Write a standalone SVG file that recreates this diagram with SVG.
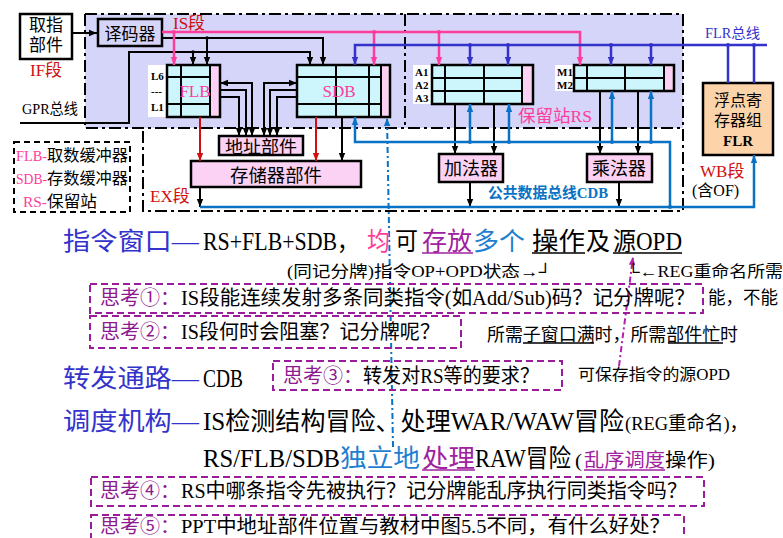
<svg xmlns="http://www.w3.org/2000/svg" width="783" height="538" viewBox="0 0 783 538">
<defs>
<style>
text{font-family:"Liberation Serif","Noto Sans CJK SC",serif;fill:#000}
.bx{stroke:#000;stroke-width:2.5}
.cy{fill:#ccf6fc}
.pk{fill:#fcd2f4}
.gl{fill:none;stroke:#000;stroke-width:2}
.k{fill:none;stroke:#000;stroke-width:2}
.r{fill:none;stroke:#d01010;stroke-width:2}
.p{fill:none;stroke:#ff3c9c;stroke-width:2.5}
.d{fill:none;stroke:#3333cc;stroke-width:2.5}
.c{fill:none;stroke:#0a72c4;stroke-width:2.5}
.dd{fill:none;stroke:#000;stroke-width:2;stroke-dasharray:12 4 3 4}
.th{fill:none;stroke:#9a1c9c;stroke-width:2;stroke-dasharray:7 4}
.lab{font-size:11px;font-weight:bold}
.stg{fill:#d01010}
.pu{fill:#8e1a90}
.bl{fill:#3333cc}
.lb{fill:#1f7fd0}
.pp{fill:#a020a0}
.pink{fill:#ff3c9c}
</style>
<marker id="ak" viewBox="0 0 10 10" refX="10" refY="5" markerWidth="8" markerHeight="8" markerUnits="userSpaceOnUse" orient="auto-start-reverse"><path d="M0,1 L10,5 L0,9 z" fill="#000"/></marker>
<marker id="ar" viewBox="0 0 10 10" refX="10" refY="5" markerWidth="8" markerHeight="8" markerUnits="userSpaceOnUse" orient="auto"><path d="M0,1 L10,5 L0,9 z" fill="#d01010"/></marker>
<marker id="ap" viewBox="0 0 10 10" refX="10" refY="5" markerWidth="8" markerHeight="8" markerUnits="userSpaceOnUse" orient="auto"><path d="M0,1 L10,5 L0,9 z" fill="#ff3c9c"/></marker>
<marker id="ad" viewBox="0 0 10 10" refX="10" refY="5" markerWidth="8" markerHeight="8" markerUnits="userSpaceOnUse" orient="auto"><path d="M0,1 L10,5 L0,9 z" fill="#3333cc"/></marker>
<marker id="ac" viewBox="0 0 10 10" refX="10" refY="5" markerWidth="8" markerHeight="8" markerUnits="userSpaceOnUse" orient="auto"><path d="M0,1 L10,5 L0,9 z" fill="#0a72c4"/></marker>
<marker id="au" viewBox="0 0 10 10" refX="10" refY="5" markerWidth="8" markerHeight="8" markerUnits="userSpaceOnUse" orient="auto"><path d="M0,1 L10,5 L0,9 z" fill="#b020b0"/></marker>
</defs>
<rect width="783" height="538" fill="#fff"/>

<!-- stage regions -->
<g id="regions">
<rect x="85" y="14" width="598" height="114" fill="#d5d5f9"/>
<path class="dd" d="M85,14 H683 V211 H143 V128 M85,14 V128 H683 M405,14 V128"/>
<text x="173" y="29" font-size="17" class="stg">IS段</text>
<text x="30" y="76" font-size="17" class="stg">IF段</text>
<text x="150" y="202" font-size="17" class="stg">EX段</text>
<text x="700" y="177" font-size="17" class="stg">WB段</text>
<text x="692" y="196" font-size="16">(含OF)</text>
<text x="705" y="38" font-size="14" class="bl" textLength="55" lengthAdjust="spacingAndGlyphs">FLR总线</text>
<text x="22" y="114" font-size="15" textLength="56" lengthAdjust="spacingAndGlyphs">GPR总线</text>
<text x="518" y="122" font-size="17" class="pink" textLength="74" lengthAdjust="spacingAndGlyphs">保留站RS</text>
<text x="488" y="198" font-size="15" style="fill:#0a72c4;font-weight:bold" textLength="120" lengthAdjust="spacingAndGlyphs">公共数据总线CDB</text>
</g>

<!-- legend -->
<g id="legend">
<rect x="14" y="142" width="116" height="70" fill="#fff" stroke="#000" stroke-width="2" stroke-dasharray="6 4"/>
<text x="16" y="161" font-size="15" class="pink" textLength="31" lengthAdjust="spacingAndGlyphs">FLB-</text>
<text x="47" y="161" font-size="16" textLength="81" lengthAdjust="spacingAndGlyphs">取数缓冲器</text>
<text x="16" y="184" font-size="15" class="pink" textLength="31" lengthAdjust="spacingAndGlyphs">SDB-</text>
<text x="47" y="184" font-size="16" textLength="81" lengthAdjust="spacingAndGlyphs">存数缓冲器</text>
<text x="23" y="207" font-size="15" class="pink" textLength="24" lengthAdjust="spacingAndGlyphs">RS-</text>
<text x="47" y="207" font-size="16" textLength="50" lengthAdjust="spacingAndGlyphs">保留站</text>
</g>

<!-- nodes -->
<g id="fetch">
<rect x="20" y="14" width="52" height="45" fill="#fff" class="bx"/>
<text x="46" y="31" font-size="17" text-anchor="middle">取指</text>
<text x="46" y="51" font-size="17" text-anchor="middle">部件</text>
</g>
<g id="decoder">
<rect x="98" y="19" width="64" height="27" fill="#d5d5f9" class="bx"/>
<text x="130" y="40" font-size="17" text-anchor="middle">译码器</text>
</g>
<g id="flb">
<rect x="148" y="65" width="19" height="52" fill="#fff"/>
<text x="151" y="80" class="lab">L6</text>
<text x="151" y="95" class="lab">---</text>
<text x="151" y="111" class="lab">L1</text>
<rect x="167" y="65" width="53" height="52" class="cy"/>
<rect x="210" y="65" width="10" height="52" class="pk"/>
<path class="gl" d="M181,65V117 M210,65V117 M167,77H210 M167,104H210"/>
<rect x="167" y="65" width="53" height="52" fill="none" class="bx"/>
<text x="195" y="97" font-size="17" class="pink" text-anchor="middle">FLB</text>
</g>
<g id="sdb">
<rect x="297" y="65" width="93" height="52" class="cy"/>
<rect x="381" y="65" width="9" height="52" class="pk"/>
<path class="gl" d="M336,65V117 M369,65V117 M381,65V117 M297,77H381 M297,104H381"/>
<rect x="297" y="65" width="93" height="52" fill="none" class="bx"/>
<text x="339" y="97" font-size="17" class="pink" text-anchor="middle">SDB</text>
</g>
<g id="rs-add">
<rect x="413" y="65" width="19" height="39" fill="#fff"/>
<text x="415" y="76" class="lab">A1</text>
<text x="415" y="89" class="lab">A2</text>
<text x="415" y="102" class="lab">A3</text>
<rect x="432" y="65" width="101" height="39" class="cy"/>
<rect x="522" y="65" width="11" height="39" class="pk"/>
<path class="gl" d="M445,65V104 M484,65V104 M522,65V104 M432,78H522 M432,91H522"/>
<rect x="432" y="65" width="101" height="39" fill="none" class="bx"/>
</g>
<g id="rs-mul">
<rect x="555" y="65" width="19" height="26" fill="#fff"/>
<text x="557" y="76" class="lab">M1</text>
<text x="557" y="89" class="lab">M2</text>
<rect x="574" y="65" width="100" height="26" class="cy"/>
<rect x="664" y="65" width="10" height="26" class="pk"/>
<path class="gl" d="M587,65V91 M625,65V91 M664,65V91 M574,78H664"/>
<rect x="574" y="65" width="100" height="26" fill="none" class="bx"/>
</g>
<g id="addr">
<rect x="219" y="136" width="84" height="19" class="pk bx"/>
<text x="261" y="153" font-size="17" text-anchor="middle" textLength="72" lengthAdjust="spacingAndGlyphs">地址部件</text>
</g>
<g id="mem">
<rect x="191" y="161" width="170" height="26" class="pk bx"/>
<text x="276" y="182" font-size="18" text-anchor="middle" textLength="92" lengthAdjust="spacingAndGlyphs">存储器部件</text>
</g>
<g id="adder">
<rect x="439" y="154" width="64" height="28" class="pk bx"/>
<text x="471" y="175" font-size="18" text-anchor="middle">加法器</text>
</g>
<g id="mult">
<rect x="587" y="154" width="65" height="28" class="pk bx"/>
<text x="619" y="175" font-size="18" text-anchor="middle">乘法器</text>
</g>
<g id="flr">
<rect x="703" y="83" width="70" height="72" fill="#fdd4aa" class="bx"/>
<text x="738" y="106" font-size="16" text-anchor="middle">浮点寄</text>
<text x="738" y="126" font-size="16" text-anchor="middle">存器组</text>
<text x="738" y="146" font-size="15" font-weight="bold" text-anchor="middle">FLR</text>
</g>

<!-- connectors -->
<g id="connectors">
<path class="k" d="M72,33 H97" marker-end="url(#ak)"/>
<path class="k" d="M162,38 H323 V65" marker-end="url(#ak)"/>
<path class="k" d="M207,38 V65" marker-end="url(#ak)"/>
<path class="k" d="M20,123 H129 V52 H310 V65" marker-end="url(#ak)"/>
<path class="k" d="M193,52 V65" marker-end="url(#ak)"/>
<path class="k" d="M220,83 H252 V136" marker-start="url(#ak)" marker-end="url(#ak)"/>
<path class="k" d="M220,90 H246 V136" marker-end="url(#ak)"/>
<path class="k" d="M220,97 H239 V136" marker-end="url(#ak)"/>
<path class="k" d="M297,83 H264 V136" marker-start="url(#ak)" marker-end="url(#ak)"/>
<path class="k" d="M297,90 H270 V136" marker-end="url(#ak)"/>
<path class="k" d="M297,97 H277 V136" marker-end="url(#ak)"/>
<path class="k" d="M342,117 V161" marker-end="url(#ak)"/>
<path class="k" d="M200,187 V207" marker-end="url(#ak)"/>
<path class="k" d="M455,104 V154" marker-end="url(#ak)"/>
<path class="k" d="M494,104 V154" marker-end="url(#ak)"/>
<path class="k" d="M600,91 V154" marker-end="url(#ak)"/>
<path class="k" d="M638,91 V154" marker-end="url(#ak)"/>
<path class="k" d="M470,182 V207" marker-end="url(#ak)"/>
<path class="k" d="M619,182 V207" marker-end="url(#ak)"/>
<path class="r" d="M200,117 V161" marker-end="url(#ar)"/>
<path class="r" d="M316,117 V161" marker-end="url(#ar)"/>
<path class="p" d="M162,32 H580 V65" marker-end="url(#ap)"/>
<path class="p" d="M174,32 V65" marker-end="url(#ap)"/>
<path class="p" d="M374,32 V65" marker-end="url(#ap)"/>
<path class="p" d="M439,32 V65" marker-end="url(#ap)"/>
<path class="d" d="M767,45 H355 V65" marker-end="url(#ad)"/>
<path class="d" d="M470,45 V65" marker-end="url(#ad)"/>
<path class="d" d="M508,45 V65" marker-end="url(#ad)"/>
<path class="d" d="M611,45 V65" marker-end="url(#ad)"/>
<path class="d" d="M651,45 V65" marker-end="url(#ad)"/>
<path class="d" d="M728,45 V83 M754,45 V83"/>
<path class="c" d="M200,207 H754 V155" marker-end="url(#ac)"/>
<path class="c" d="M670,207 V142 H355 V117" marker-end="url(#ac)"/>
<path class="c" d="M470,142 V104" marker-end="url(#ac)"/>
<path class="c" d="M509,142 V104" marker-end="url(#ac)"/>
<path class="c" d="M612,142 V91" marker-end="url(#ac)"/>
<path class="c" d="M651,142 V91" marker-end="url(#ac)"/>
<path fill="none" stroke="#0a72c4" stroke-width="2" stroke-dasharray="6 3 2 3" d="M393,447 L387,118" marker-end="url(#ac)"/>
<path fill="none" stroke="#b020b0" stroke-width="2" stroke-dasharray="6 3 2 3" d="M619,366 L633,257" marker-end="url(#au)"/>
<g fill="#000"><circle cx="207" cy="38" r="1.8"/><circle cx="193" cy="52" r="1.8"/></g>
<g fill="#ff3c9c"><circle cx="174" cy="32" r="2"/><circle cx="374" cy="32" r="2"/><circle cx="439" cy="32" r="2"/></g>
<g fill="#3333cc"><circle cx="470" cy="45" r="2"/><circle cx="508" cy="45" r="2"/><circle cx="611" cy="45" r="2"/><circle cx="651" cy="45" r="2"/><circle cx="728" cy="45" r="2"/><circle cx="754" cy="45" r="2"/></g>
<g fill="#0a72c4"><circle cx="470" cy="142" r="2"/><circle cx="509" cy="142" r="2"/><circle cx="612" cy="142" r="2"/><circle cx="651" cy="142" r="2"/><circle cx="670" cy="207" r="2"/></g>
</g>

<!-- explanatory text -->
<g id="notes">
<text x="63" y="250" font-size="25" class="bl" textLength="136" lengthAdjust="spacingAndGlyphs">指令窗口—</text>
<text x="203" y="250" font-size="25" textLength="156" lengthAdjust="spacingAndGlyphs">RS+FLB+SDB，</text>
<text x="367" y="250" font-size="25" class="pink" textLength="23" lengthAdjust="spacingAndGlyphs">均</text>
<text x="395" y="250" font-size="25" textLength="23" lengthAdjust="spacingAndGlyphs">可</text>
<text x="422" y="250" font-size="25" class="pp" textLength="50" lengthAdjust="spacingAndGlyphs">存放</text>
<text x="473" y="250" font-size="25" class="lb" textLength="52" lengthAdjust="spacingAndGlyphs">多个</text>
<text x="532" y="250" font-size="25" textLength="53" lengthAdjust="spacingAndGlyphs">操作</text>
<text x="586" y="250" font-size="25" textLength="24" lengthAdjust="spacingAndGlyphs">及</text>
<text x="613" y="250" font-size="25" textLength="69" lengthAdjust="spacingAndGlyphs">源OPD</text>
<path stroke="#a020a0" stroke-width="1.5" d="M422,253 H473"/>
<path stroke="#000" stroke-width="1.5" d="M532,253 H585 M613,253 H682"/>

<text x="287" y="277" font-size="16" textLength="233" lengthAdjust="spacingAndGlyphs">(同记分牌)指令OP+OPD状态</text>
<text x="520" y="277" font-size="16" textLength="32" lengthAdjust="spacingAndGlyphs">→┘</text>
<text x="627" y="277" font-size="16" textLength="156" lengthAdjust="spacingAndGlyphs">└←REG重命名所需</text>

<rect x="90" y="284" width="613" height="29" class="th"/>
<text x="100" y="305" font-size="20" class="pu" textLength="80" lengthAdjust="spacingAndGlyphs">思考①：</text>
<text x="181" y="305" font-size="20" textLength="514" lengthAdjust="spacingAndGlyphs">IS段能连续发射多条同类指令(如Add/Sub)码？记分牌呢？</text>
<text x="708" y="304" font-size="18" textLength="70" lengthAdjust="spacingAndGlyphs">能，不能</text>

<rect x="90" y="316" width="371" height="32" class="th"/>
<text x="100" y="339" font-size="20" class="pu" textLength="80" lengthAdjust="spacingAndGlyphs">思考②：</text>
<text x="181" y="339" font-size="20" textLength="259" lengthAdjust="spacingAndGlyphs">IS段何时会阻塞？记分牌呢？</text>
<text x="487" y="341" font-size="18" textLength="251" lengthAdjust="spacingAndGlyphs">所需子窗口满时，所需部件忙时</text>
<path stroke="#000" stroke-width="1.5" d="M523,343 H594 M668,343 H723"/>

<text x="63" y="387" font-size="25" class="bl" textLength="136" lengthAdjust="spacingAndGlyphs">转发通路—</text>
<text x="203" y="387" font-size="25" textLength="40" lengthAdjust="spacingAndGlyphs">CDB</text>
<rect x="273" y="361" width="289" height="29" class="th"/>
<text x="283" y="383" font-size="20" class="pu" textLength="80" lengthAdjust="spacingAndGlyphs">思考③：</text>
<text x="363" y="383" font-size="20" textLength="176" lengthAdjust="spacingAndGlyphs">转发对RS等的要求？</text>
<text x="578" y="380" font-size="16" textLength="152" lengthAdjust="spacingAndGlyphs">可保存指令的源OPD</text>

<text x="63" y="430" font-size="25" class="bl" textLength="136" lengthAdjust="spacingAndGlyphs">调度机构—</text>
<text x="203" y="430" font-size="25" textLength="421" lengthAdjust="spacingAndGlyphs">IS检测结构冒险、处理WAR/WAW冒险</text>
<text x="625" y="430" font-size="19" textLength="123" lengthAdjust="spacingAndGlyphs">(REG重命名)，</text>

<text x="203" y="467" font-size="25" textLength="137" lengthAdjust="spacingAndGlyphs">RS/FLB/SDB</text>
<text x="340" y="467" font-size="25" class="lb" textLength="80" lengthAdjust="spacingAndGlyphs">独立地</text>
<text x="422" y="467" font-size="25" class="pp" textLength="53" lengthAdjust="spacingAndGlyphs">处理</text>
<text x="475" y="467" font-size="25" textLength="96" lengthAdjust="spacingAndGlyphs">RAW冒险</text>
<text x="575" y="467" font-size="19" textLength="7" lengthAdjust="spacingAndGlyphs">(</text>
<text x="584" y="467" font-size="19" class="pp" textLength="81" lengthAdjust="spacingAndGlyphs">乱序调度</text>
<text x="665" y="467" font-size="19" textLength="50" lengthAdjust="spacingAndGlyphs">操作)</text>
<path stroke="#a020a0" stroke-width="1.5" d="M422,470 H475 M584,470 H665"/>

<rect x="91" y="477" width="613" height="29" class="th"/>
<text x="100" y="498" font-size="20" class="pu" textLength="80" lengthAdjust="spacingAndGlyphs">思考④：</text>
<text x="181" y="498" font-size="20" textLength="506" lengthAdjust="spacingAndGlyphs">RS中哪条指令先被执行？记分牌能乱序执行同类指令吗？</text>

<rect x="91" y="515" width="593" height="30" class="th"/>
<text x="100" y="533" font-size="19" class="pu" textLength="80" lengthAdjust="spacingAndGlyphs">思考⑤：</text>
<text x="181" y="533" font-size="19" textLength="489" lengthAdjust="spacingAndGlyphs">PPT中地址部件位置与教材中图5.5不同，有什么好处？</text>
</g>
</svg>
